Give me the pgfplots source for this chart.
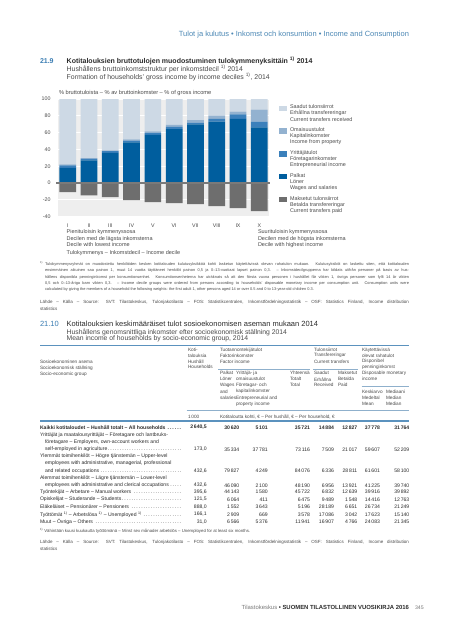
\documentclass[border=0pt]{standalone}
\usepackage{fontspec}
\setmainfont{Liberation Sans}
\usepackage{pgfplots}
\pgfplotsset{compat=1.18}
\definecolor{recv}{HTML}{CDD9E5}
\definecolor{prop}{HTML}{93B2D0}
\definecolor{entr}{HTML}{3B80BB}
\definecolor{wage}{HTML}{005E9E}
\definecolor{paid}{HTML}{6E6E6E}
\definecolor{bgg}{HTML}{EEEEEE}
\definecolor{zline}{HTML}{7A7A7A}
\definecolor{hblue}{HTML}{4C88B5}
\definecolor{nblue}{HTML}{3A7DB3}
\definecolor{rblue}{HTML}{5B92BE}
\definecolor{lrule}{HTML}{8FB0CC}
\definecolor{txt}{HTML}{2B2B2B}
\definecolor{mtxt}{HTML}{4A4A4A}
\definecolor{ltxt}{HTML}{7A7A7A}
\newcommand{\fs}[1]{\fontsize{#1}{#1}\selectfont}
\newcommand{\one}{\textsuperscript{1)}}
\newcommand{\dotl}{\leaders\hbox to 2.4pt{\hss.\hss}\hfill}
\newcommand{\vrow}[9]{%
 \node[anchor=east] at (206.7,#1) {#2};
 \node[anchor=east] at (239.3,#1) {#3};
 \node[anchor=east] at (267.7,#1) {#4};
 \node[anchor=east] at (310.0,#1) {#5};
 \node[anchor=east] at (334.0,#1) {#6};
 \node[anchor=east] at (357.3,#1) {#7};
 \node[anchor=east] at (380.0,#1) {#8};
 \node[anchor=east] at (409.3,#1) {#9};}
\begin{document}
\begin{tikzpicture}
\path[use as bounding box, fill=white] (0,0) rectangle (450pt,-640pt);

% ---------- chart 21.9 ----------
\begin{axis}[
  at={(58pt,-216.7pt)}, anchor=south west,
  scale only axis, width=211pt, height=117.7pt,
  xmin=0.545, xmax=10.455, ymin=-40, ymax=100,
  ybar stacked, bar width=16.7pt,
  axis background/.style={fill=bgg},
  axis line style={draw=none},
  major tick length=0pt,
  ymajorgrids, grid style={white, line width=0.8pt},
  ytick={-40,-20,0,20,40,60,80,100},
  xtick={1,2,3,4,5,6,7,8,9,10},
  xticklabels={I,II,III,IV,V,VI,VII,VIII,IX,X},
  tick label style={font=\fs{5.3}, text=mtxt},
  /pgf/number format/assume math mode=true,
  yticklabel style={xshift=-4pt},
  xticklabel style={yshift=-3.5pt},
]
\addplot[fill=wage, draw=none] coordinates {(1,18.0) (2,27.0) (3,36.0) (4,48.3) (5,57.4) (6,64.2) (7,69.7) (8,73.2) (9,76.4) (10,66.3)};
\addplot[fill=entr, draw=none] coordinates {(1,3.0) (2,1.7) (3,2.0) (4,2.0) (5,2.0) (6,2.7) (7,2.3) (8,3.2) (9,5.4) (10,6.7)};
\addplot[fill=prop, draw=none] coordinates {(1,1.2) (2,0.9) (3,1.0) (4,1.6) (5,2.0) (6,2.4) (7,2.9) (8,3.8) (9,3.2) (10,14.4)};
\addplot[fill=recv, draw=none] coordinates {(1,77.8) (2,70.4) (3,61.0) (4,48.1) (5,38.6) (6,30.7) (7,25.1) (8,19.8) (9,15.0) (10,12.6)};
\end{axis}
\begin{axis}[
  at={(58pt,-216.7pt)}, anchor=south west,
  scale only axis, width=211pt, height=117.7pt,
  xmin=0.545, xmax=10.455, ymin=-40, ymax=100,
  hide axis, clip=false,
  ybar, bar width=16.7pt, bar shift=0pt,
]
\addplot[fill=paid, draw=none] coordinates {(1,-10.7) (2,-14.5) (3,-16.8) (4,-20.4) (5,-22.8) (6,-23.8) (7,-25.0) (8,-27.5) (9,-29.8) (10,-33.4)};
\draw[zline, line width=1.3pt] (axis cs:0.47,0) -- (axis cs:10.5,0);
\end{axis}

\begin{scope}[x=1pt, y=-1pt, every node/.style={inner sep=0pt, outer sep=0pt, anchor=west, text=txt}]
% header
\node[anchor=east, font=\fs{7.5}, text=hblue] at (409,35) {Tulot ja kulutus • Inkomst och konsumtion • Income and Consumption};
% chart title
\node[font=\fs{7.0}\bfseries, text=nblue] at (40,61) {21.9};
\node[font=\fs{7.0}\bfseries] at (66.7,61) {Kotitalouksien bruttotulojen muodostuminen tulokymmenyksittäin \one{} 2014};
\node[font=\fs{6.9}, text=mtxt] at (66.7,69) {Hushållens bruttoinkomststruktur per inkomstdecil \one{} 2014};
\node[font=\fs{6.9}, text=mtxt] at (66.7,77) {Formation of households’ gross income by income deciles \one, 2014};
\node[font=\fs{5.7}, text=mtxt] at (59,93) {\% bruttotuloista – \% av bruttoinkomster – \% of gross income};
% legend
\fill[recv] (279.3,105.5) rectangle (287.3,111.1);
\fill[prop] (279.3,128.3) rectangle (287.3,133.9);
\fill[entr] (279.3,150.9) rectangle (287.3,156.5);
\fill[wage] (279.3,173.7) rectangle (287.3,179.3);
\fill[paid] (279.3,196.7) rectangle (287.3,202.3);
\begin{scope}[every node/.append style={font=\fs{5.4}, text=mtxt}]
\node at (290,106.7) {Saadut tulonsiirrot};
\node at (290,113.0) {Erhållna transfereringar};
\node at (290,119.3) {Current transfers received};
\node at (290,129.7) {Omaisuustulot};
\node at (290,136.0) {Kapitalinkomster};
\node at (290,142.3) {Income from property};
\node at (290,152.7) {Yrittäjätulot};
\node at (290,159.0) {Företagarinkomster};
\node at (290,165.3) {Entrepreneurial income};
\node at (290,175.3) {Palkat};
\node at (290,181.6) {Löner};
\node at (290,187.9) {Wages and salaries};
\node at (290,198.7) {Maksetut tulonsiirrot};
\node at (290,205.0) {Betalda transfereringar};
\node at (290,211.3) {Current transfers paid};
\end{scope}
% decile notes
\begin{scope}[every node/.append style={font=\fs{5.5}, text=mtxt}]
\node at (66.7,232.3) {Pienituloisin kymmenyssosa};
\node at (66.7,238.6) {Decilen med de lägsta inkomsterna};
\node at (66.7,244.9) {Decile with lowest income};
\node at (258,232.3) {Suurituloisin kymmenyssosa};
\node at (258,238.6) {Decilen med de högsta inkomsterna};
\node at (258,244.9) {Decile with highest income};
\node at (66.7,253.3) {Tulokymmenys – Inkomstdecil – Income decile};
\end{scope}
% footnote
\begin{scope}[every node/.append style={font=\fs{3.9}, text=mtxt}]
\node at (40,263.6) {\one};
\node at (45,264.3) {\makebox[364pt][s]{Tulokymmenysryhmät on muodostettu henkilöiden kesken kotitalouden kulutusyksikköä kohti lasketun käytettävissä olevan rahatulon mukaan. Kulutusyksiköt on laskettu siten, että kotitalouden}};
\node at (45,270.6) {\makebox[364pt][s]{ensimmäinen aikuinen saa painon 1, muut 14 vuotta täyttäneet henkilöt painon 0,5 ja 0–13-vuotiaat lapset painon 0,3. – Inkomstdecilgrupperna har bildats utifrån personer på basis av hus-}};
\node at (45,276.9) {\makebox[364pt][s]{hållens disponibla penninginkomst per konsumtionsenhet. Konsumtionsenheterna har uträknats så att den första vuxna personen i hushållet får vikten 1, övriga personer som fyllt 14 år vikten}};
\node at (45,283.2) {\makebox[364pt][s]{0,5 och 0–13-åriga barn vikten 0,3. – Income decile groups were ordered from persons according to households’ disposable monetary income per consumption unit. Consumption units were}};
\node at (45,289.6) {calculated by giving the members of a household the following weights: the first adult 1, other persons aged 14 or over 0.5 and 0 to 13-year-old children 0.3.};
\end{scope}
\begin{scope}[every node/.append style={font=\fs{4.5}, text=mtxt}]
\node at (40,302.3) {\makebox[369pt][s]{Lähde – Källa – Source: SVT: Tilastokeskus, Tulonjakotilasto – FOS: Statistikcentralen, Inkomstfördelningsstatistik – OSF: Statistics Finland, Income distribution}};
\node at (40,308.9) {statistics};
\end{scope}

% ---------- table 21.10 ----------
\node[font=\fs{7.5}, text=nblue] at (40,324) {21.10};
\node[font=\fs{7.5}] at (66.7,324) {Kotitalouksien keskimääräiset tulot sosioekonomisen aseman mukaan 2014};
\node[font=\fs{6.8}, text=mtxt] at (66.7,332.3) {Hushållens genomsnittliga inkomster efter socioekonomisk ställning 2014};
\node[font=\fs{6.8}, text=mtxt] at (66.7,339) {Mean income of households by socio-economic group, 2014};
\draw[rblue, line width=0.9pt] (40,345.3) -- (409.3,345.3);
\draw[lrule, line width=0.45pt] (218,369.3) -- (310,369.3);
\draw[lrule, line width=0.45pt] (313,369.3) -- (358,369.3);
\draw[lrule, line width=0.45pt] (361.7,386) -- (409.3,386);
\draw[lrule, line width=0.45pt] (186.7,410) -- (409.3,410);
\draw[rblue, line width=1.2pt] (40,421) -- (409.3,421);
\begin{scope}[every node/.append style={font=\fs{4.7}, text=mtxt}]
\node at (40,362.3) {Sosioekonominen asema};
\node at (40,368.3) {Socioekonomisk ställning};
\node at (40,374.0) {Socio-economic group};
\node at (188,350.0) {Koti-};
\node at (188,355.7) {talouksia};
\node at (188,361.4) {Hushåll};
\node at (188,367.1) {Households};
\node at (220,350.0) {Tuotannontekijätulot};
\node at (220,355.7) {Faktorinkomster};
\node at (220,361.4) {Factor income};
\node at (314,350.0) {Tulonsiirrot};
\node at (314,355.7) {Transfereringar};
\node at (314,361.4) {Current transfers};
\node at (362,350.0) {Käytettävissä};
\node at (362,355.7) {olevat rahatulot};
\node at (362,361.4) {Disponibel};
\node at (362,367.6) {penninginkomst};
\node at (362,373.3) {Disposable monetary};
\node at (362,379.3) {income};
\node at (220,373.3) {Palkat};
\node at (220,379.3) {Löner};
\node at (220,385.3) {Wages};
\node at (220,391.6) {and};
\node at (220,397.9) {salaries};
\node at (236,373.3) {Yrittäjä- ja};
\node at (236,379.3) {omaisuustulot};
\node at (236,385.3) {Företagar- och};
\node at (236,391.6) {kapitalinkomster};
\node at (236,397.9) {Entrepreneurial and};
\node at (236,404.0) {property income};
\node at (290,373.3) {Yhteensä};
\node at (290,379.3) {Totalt};
\node at (290,385.3) {Total};
\node at (314,373.3) {Saadut};
\node at (314,379.3) {Erhållna};
\node at (314,385.3) {Received};
\node at (338,373.3) {Maksetut};
\node at (338,379.3) {Betalda};
\node at (338,385.3) {Paid};
\node at (362,391.6) {Keskiarvo};
\node at (362,397.7) {Medeltal};
\node at (362,403.8) {Mean};
\node at (386,391.6) {Mediaani};
\node at (386,397.7) {Median};
\node at (386,403.8) {Median};
\node at (188,416.7) {1\,000};
\node at (220,416.7) {Kotitaloutta kohti, € – Per hushåll, € – Per household, €};
\end{scope}
\begin{scope}[every node/.append style={font=\fs{5.1}, text=txt}]
\node at (40,427.3) {\makebox[143pt][l]{\bfseries Kaikki kotitaloudet – Hushåll totalt – All households\dotl}};
\begin{scope}[every node/.append style={font=\fs{5.1}\bfseries}]
\vrow{427.3}{2\,640,5}{30\,620}{5\,101}{35\,721}{14\,884}{12\,827}{37\,778}{31\,764}
\end{scope}
\node at (40,434.7) {Yrittäjät ja maatalousyrittäjät – Företagare och lantbruks-};
\node at (45,441.8) {företagare – Employers, own-account workers and};
\node at (45,449.3) {\makebox[138pt][l]{self-employed in agriculture\dotl}};
\vrow{449.3}{173,0}{35\,334}{37\,781}{73\,116}{7\,509}{21\,017}{59\,607}{52\,209}
\node at (40,456.0) {Ylemmät toimihenkilöt – Högre tjänstemän – Upper-level};
\node at (45,463.4) {employees with administrative, managerial, professional};
\node at (45,471.0) {\makebox[138pt][l]{and related occupations\dotl}};
\vrow{471.0}{432,6}{79\,827}{4\,249}{84\,076}{6\,336}{28\,811}{61\,601}{58\,100}
\node at (40,478.0) {Alemmat toimihenkilöt – Lägre tjänstemän – Lower-level};
\node at (45,485.3) {\makebox[138pt][l]{employees with administrative and clerical occupations\dotl}};
\vrow{485.3}{432,6}{46\,090}{2\,100}{48\,190}{6\,956}{13\,921}{41\,225}{39\,740}
\node at (40,492.0) {\makebox[143pt][l]{Työntekijät – Arbetare – Manual workers\dotl}};
\vrow{492.0}{395,6}{44\,143}{1\,580}{45\,722}{6\,832}{12\,639}{39\,916}{39\,892}
\node at (40,499.4) {\makebox[143pt][l]{Opiskelijat – Studerande – Students\dotl}};
\vrow{499.4}{121,5}{6\,064}{411}{6\,475}{9\,489}{1\,548}{14\,416}{12\,763}
\node at (40,507.0) {\makebox[143pt][l]{Eläkeläiset – Pensionärer – Pensioners\dotl}};
\vrow{507.0}{888,0}{1\,552}{3\,643}{5\,196}{28\,189}{6\,651}{26\,734}{21\,249}
\node at (40,514.4) {\makebox[143pt][l]{Työttömät \one{} – Arbetslösa \one{} – Unemployed \one\dotl}};
\vrow{514.4}{166,1}{2\,909}{669}{3\,578}{17\,086}{3\,042}{17\,623}{15\,140}
\node at (40,521.8) {\makebox[143pt][l]{Muut – Övriga – Others\dotl}};
\vrow{521.8}{31,0}{6\,566}{5\,376}{11\,941}{16\,907}{4\,766}{24\,083}{21\,345}
\end{scope}
\node[font=\fs{4.3}, text=mtxt] at (40,531.3) {\one{} Vähintään kuusi kuukautta työttömänä – Minst sex månader arbetslös – Unemployed for at least six months.};
\begin{scope}[every node/.append style={font=\fs{4.5}, text=mtxt}]
\node at (40,542.7) {\makebox[369pt][s]{Lähde – Källa – Source: SVT: Tilastokeskus, Tulonjakotilasto – FOS: Statistikcentralen, Inkomstfördelningsstatistik – OSF: Statistics Finland, Income distribution}};
\node at (40,549.3) {statistics};
\end{scope}
% footer
\node[anchor=east, font=\fs{5.9}] at (409,607.7) {{\color{ltxt}Tilastokeskus} \textbf{• SUOMEN TILASTOLLINEN VUOSIKIRJA 2016}};
\node[font=\fs{5.2}, text=ltxt] at (415,607.7) {345};
\end{scope}
\end{tikzpicture}
\end{document}
